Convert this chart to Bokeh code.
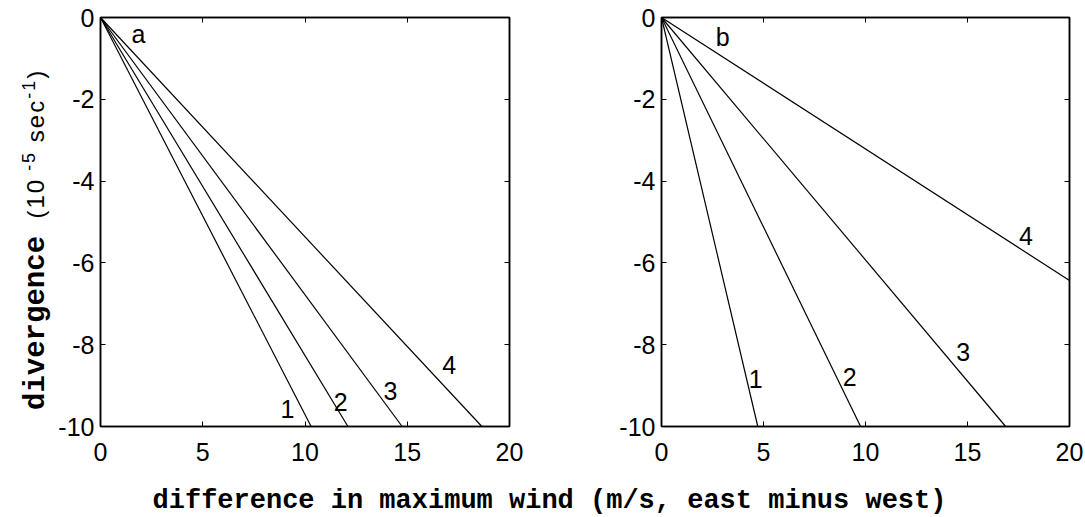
from bokeh.plotting import figure
from bokeh.models import Range1d, LinearAxis, FixedTicker, Div
from bokeh.layouts import row, column
from bokeh.embed import file_html
from bokeh.resources import INLINE
from bokeh.core.properties import value

# ---------------- data ----------------
x_ticks = [0, 5, 10, 15, 20]
y_ticks = [0, -2, -4, -6, -8, -10]
y_tick_text = {0: "0", -2: "-2", -4: "-4", -6: "-6", -8: "-8", -10: "-10"}

# panel a: each curve runs from the origin to its end point
a_ids = ["1", "2", "3", "4"]
a_end_x = [10.3, 12.1, 14.75, 18.65]
a_end_y = [-10, -10, -10, -10]
a_lab_x = [9.14, 11.74, 14.18, 17.05]
a_lab_y = [-9.56, -9.4, -9.12, -8.5]

# panel b
b_ids = ["1", "2", "3", "4"]
b_end_x = [4.72, 9.76, 16.87, 20]
b_end_y = [-10, -10, -10, -6.43]
b_lab_x = [4.62, 9.22, 14.79, 17.87]
b_lab_y = [-8.83, -8.79, -8.18, -5.35]

TICK_FONT = "Liberation Sans"
TICK_SIZE = "25px"
H_TOTAL = 487


def make_panel(end_x, end_y, lab_x, lab_y, ids, tag, tag_xy, left, fw, right):
    p = figure(frame_width=fw, frame_height=409,
               min_border_left=left, min_border_right=right,
               min_border_top=17, min_border_bottom=61,
               x_range=Range1d(0, 20), y_range=Range1d(-10, 0),
               output_backend="svg", toolbar_location=None,
               background_fill_color="white", border_fill_color="white")
    p.grid.visible = False
    p.outline_line_color = "black"
    p.outline_line_width = 1.5
    bot = p.below[0]
    lft = p.left[0]
    bot.ticker = FixedTicker(ticks=x_ticks)
    lft.ticker = FixedTicker(ticks=y_ticks)
    lft.major_label_overrides = y_tick_text
    top = LinearAxis(ticker=FixedTicker(ticks=x_ticks))
    rgt = LinearAxis(ticker=FixedTicker(ticks=y_ticks))
    p.add_layout(top, "above")
    p.add_layout(rgt, "right")
    for ax in [bot, lft, top, rgt]:
        ax.major_tick_in = 5
        ax.major_tick_out = 0
        ax.minor_tick_line_color = None
        ax.axis_line_color = "black"
        ax.axis_line_width = 1.5
        ax.major_tick_line_color = "black"
        ax.major_label_text_font = TICK_FONT
        ax.major_label_text_font_size = TICK_SIZE
        ax.major_label_text_color = "black"
    for ax in [top, rgt]:
        ax.major_label_text_alpha = 0
        ax.major_label_text_font_size = "1px"
        ax.major_label_standoff = 0
    bot.major_label_standoff = 16
    lft.major_label_standoff = 6

    for ex, ey in zip(end_x, end_y):
        p.line([0, ex], [0, ey], line_color="black", line_width=1.2)
    p.text(x=lab_x, y=lab_y, text=ids, text_font=value(TICK_FONT),
           text_font_size=TICK_SIZE, text_align="center",
           text_baseline="middle", text_color="black")
    p.text(x=[tag_xy[0]], y=[tag_xy[1]], text=[tag], text_font=value(TICK_FONT),
           text_font_size=TICK_SIZE, text_align="center",
           text_baseline="middle", text_color="black")
    return p


# narrow strip holding the rotated y label (mixed fonts, real superscripts)
LAB_W = 55
ylab_html = (
    '<div style="width:0px; height:0px; overflow:visible;">'
    '<div style="transform-origin:0 0; transform:translate(12px, 410px) rotate(-90deg);'
    ' white-space:nowrap; line-height:34px; color:black; width:0px; height:0px;'
    ' overflow:visible;">'
    '<span style="font-family:\'Liberation Mono\'; font-weight:bold; font-size:29px;">'
    'divergence </span>'
    '<span style="font-family:\'Liberation Sans\'; font-size:24px; letter-spacing:2px;">(10'
    '<sup style="font-size:18px;"> -5</sup> sec'
    '<sup style="font-size:18px;">-1</sup>)</span></div></div>'
)
ylab = Div(text=ylab_html, width=LAB_W, height=H_TOTAL, margin=0,
           styles={"overflow": "visible"})

pa = make_panel(a_end_x, a_end_y, a_lab_x, a_lab_y, a_ids, "a", (1.86, -0.4),
                98 - LAB_W, 409, 30)
pb = make_panel(b_end_x, b_end_y, b_lab_x, b_lab_y, b_ids, "b", (3.0, -0.48),
                122, 408, 18)

xlab = Div(text="difference in maximum wind (m/s, east minus west)",
           width=1085, height=30, margin=0,
           styles={"font-family": "Liberation Mono", "font-weight": "bold",
                   "font-size": "27px", "text-align": "center",
                   "text-indent": "14px",
                   "line-height": "28px", "color": "black",
                   "white-space": "nowrap"})

layout = column(row(ylab, pa, pb), xlab)
open("out.html", "w").write(file_html(layout, INLINE))
